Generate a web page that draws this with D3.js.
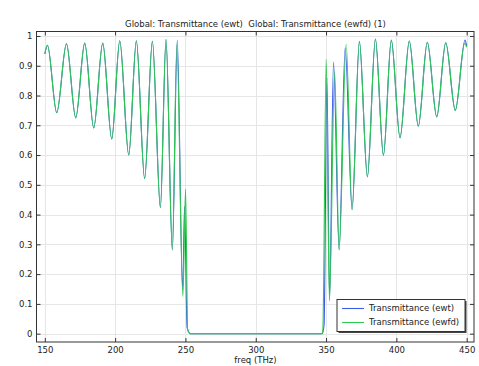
<!DOCTYPE html>
<html>
<head>
<meta charset="utf-8">
<script src="https://cdn.jsdelivr.net/npm/d3@7"></script>
<style>
  body { margin: 0; background: #fff; }
  svg { display: block; font-family: "DejaVu Sans", sans-serif; }
</style>
</head>
<body>
<svg id="chart" width="479" height="366"></svg>
<script>
// values (freq in THz, transmittance)
const freqEwt = [150, 151.9, 158.5, 165.4, 172, 178.4, 184.8, 191.2, 197.6, 203.3, 209.7, 215.1, 221, 226.5, 232.2, 236.2, 240.7, 244.2, 248, 249.4, 251.2, 253.5, 300, 347.3,
  348.6, 350.6, 352.5, 355.3, 359.3, 363.6, 368.5, 373.7, 379.4, 385.1, 390.8, 396.4, 402.6, 409.2, 415.6, 422, 428.7, 435.1, 441.9, 448.8, 450];
const tEwt = [0.94, 0.969, 0.742, 0.974, 0.725, 0.976, 0.691, 0.976, 0.654, 0.984, 0.6, 0.984, 0.521, 0.982, 0.424, 0.988, 0.282, 0.986, 0.148, 0.428, 0.02, 0, 0, 0,
  0.03, 0.86, 0.115, 0.912, 0.282, 0.96, 0.417, 0.981, 0.527, 0.99, 0.599, 0.986, 0.658, 0.983, 0.697, 0.979, 0.728, 0.977, 0.75, 0.986, 0.966];

const freqEwfd = [150, 151.9, 158.5, 165.4, 172, 178.4, 184.8, 191.2, 197.6, 203.3, 209.7, 215.1, 221, 226.5, 232.2, 236.2, 240.7, 243.9, 248.2, 250.1, 251.6, 253.5, 300, 347,
  347.7, 350.1, 352.4, 356.1, 359.3, 364.3, 368.5, 373.7, 379.4, 385.1, 390.8, 396.4, 402.6, 409.2, 415.6, 422, 428.7, 435.1, 441.9, 448.6, 450];
const tEwfd = [0.94, 0.969, 0.742, 0.974, 0.725, 0.976, 0.691, 0.976, 0.654, 0.984, 0.6, 0.984, 0.521, 0.982, 0.424, 0.988, 0.282, 0.97, 0.125, 0.486, 0.013, 0, 0, 0,
  0.012, 0.922, 0.11, 0.88, 0.282, 0.972, 0.417, 0.981, 0.527, 0.99, 0.599, 0.986, 0.658, 0.983, 0.697, 0.979, 0.728, 0.977, 0.75, 0.975, 0.962];

const xTicks = [150, 200, 250, 300, 350, 400, 450];
const yTicks = [0, 0.1, 0.2, 0.3, 0.4, 0.5, 0.6, 0.7, 0.8, 0.9, 1];
const seriesNames = ["Transmittance (ewt)", "Transmittance (ewfd)"];
const seriesColors = ["#3a5ee8", "#2fc84f"];
const title = "Global: Transmittance (ewt)  Global: Transmittance (ewfd) (1)";

const svg = d3.select("#chart");
const margin = { top: 31.5, right: 5, bottom: 24, left: 36.5 };
const width = 479, height = 366;

const x = d3.scaleLinear().domain([144.1, 455.2]).range([margin.left, width - margin.right]);
const y = d3.scaleLinear().domain([-0.028, 1.015]).range([height - margin.bottom, margin.top]);

// grid
const grid = svg.append("g").attr("stroke", "#e6e6e6").attr("stroke-width", 1);
grid.selectAll(".gx").data(xTicks).enter().append("line")
  .attr("x1", d => Math.round(x(d)) + 0.5).attr("x2", d => Math.round(x(d)) + 0.5)
  .attr("y1", y.range()[1]).attr("y2", y.range()[0]);
grid.selectAll(".gy").data(yTicks).enter().append("line")
  .attr("y1", d => Math.round(y(d)) + 0.5).attr("y2", d => Math.round(y(d)) + 0.5)
  .attr("x1", x.range()[0]).attr("x2", x.range()[1]);

// lines
const plot = svg.append("g");
const line = d3.line().curve(d3.curveMonotoneX);
const series = [
  freqEwt.map((f, i) => [x(f), y(tEwt[i])]),
  freqEwfd.map((f, i) => [x(f), y(tEwfd[i])])
];
series.forEach((pts, i) => {
  plot.append("path")
    .attr("d", line(pts))
    .attr("fill", "none")
    .attr("stroke", seriesColors[i])
    .attr("stroke-width", 1.1);
});

// axes, ticks pointing inward on all four sides
const fs = "8.5px";
const styleAxis = g => {
  g.select(".domain").remove();
  g.selectAll(".tick line").attr("stroke", "#333");
  g.selectAll("text").attr("fill", "#222").style("font-size", fs).style("font-family", "DejaVu Sans, sans-serif");
};
svg.append("g").attr("transform", `translate(0,${y.range()[0]})`)
  .call(d3.axisBottom(x).tickValues(xTicks).tickSize(-4).tickPadding(5).tickFormat(d3.format("d")))
  .call(styleAxis);
svg.append("g").attr("transform", `translate(0,${y.range()[1]})`)
  .call(d3.axisTop(x).tickValues(xTicks).tickSize(-4).tickFormat(""))
  .call(styleAxis);
svg.append("g").attr("transform", `translate(${x.range()[0]},0)`)
  .call(d3.axisLeft(y).tickValues(yTicks).tickSize(-4).tickPadding(4).tickFormat(d3.format("~g")))
  .call(styleAxis);
svg.append("g").attr("transform", `translate(${x.range()[1]},0)`)
  .call(d3.axisRight(y).tickValues(yTicks).tickSize(-4).tickFormat(""))
  .call(styleAxis);

// frame
svg.append("rect")
  .attr("x", x.range()[0]).attr("y", y.range()[1])
  .attr("width", x.range()[1] - x.range()[0]).attr("height", y.range()[0] - y.range()[1])
  .attr("fill", "none").attr("stroke", "#333").attr("stroke-width", 1);

// title and axis label
svg.append("text").attr("x", 255.5).attr("y", 27)
  .attr("text-anchor", "middle").style("font-size", fs).style("white-space", "pre")
  .attr("fill", "#222").text(title);
svg.append("text").attr("x", 255.5).attr("y", 363)
  .attr("text-anchor", "middle").style("font-size", fs).attr("fill", "#222").text("freq (THz)");

// legend
const lg = svg.append("g").attr("transform", "translate(337,299.5)");
lg.append("rect").attr("x", 1.5).attr("y", 1.5).attr("width", 128).attr("height", 32).attr("fill", "#444");
lg.append("rect").attr("width", 128).attr("height", 32).attr("fill", "#fff").attr("stroke", "#333");
seriesNames.forEach((name, i) => {
  const ly = 9 + i * 14;
  lg.append("line").attr("x1", 5).attr("x2", 27).attr("y1", ly).attr("y2", ly)
    .attr("stroke", seriesColors[i]).attr("stroke-width", 1.1);
  lg.append("text").attr("x", 32).attr("y", ly).attr("dy", "0.35em")
    .style("font-size", fs).attr("fill", "#222").text(name);
});
</script>
</body>
</html>
